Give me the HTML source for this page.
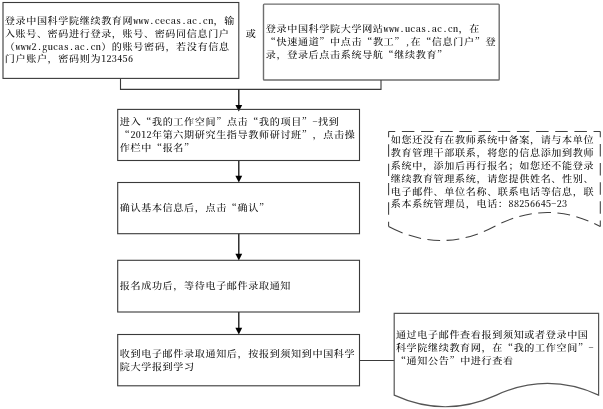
<!DOCTYPE html>
<html lang="zh-CN">
<head>
<meta charset="utf-8">
<title>报名流程</title>
<style>
html,body{margin:0;padding:0;background:#fff;}
body{width:603px;height:409px;position:relative;overflow:hidden;font-family:"Liberation Serif","Noto Serif CJK SC",serif;}
svg{position:absolute;left:0;top:0;}
.t{position:absolute;font-size:10.1px;line-height:13px;color:#111;white-space:nowrap;letter-spacing:0.610px;font-weight:500;filter:grayscale(1);}
.t p{margin:0;height:13px;transform:scaleY(0.92);transform-origin:0 50%;}
.l{font-family:"Noto Serif CJK SC","Liberation Serif",serif;font-feature-settings:"hwid";line-height:0;letter-spacing:0.305px;}
.q{font-family:"Noto Serif CJK SC","Liberation Serif",serif;line-height:0;}
</style>
</head>
<body>
<svg width="603" height="409" viewBox="0 0 603 409" fill="none" stroke="#3a3a3a" stroke-width="1.1">
<rect x="3" y="2.5" width="235.8" height="75.9"/>
<rect x="263.5" y="4.1" width="235.7" height="75.9" rx="0.8" stroke="#6e6e6e" stroke-width="1.4"/>
<path d="M120.5 78.4V89.4H381V80"/>
<path d="M238.8 89.4V105.5" stroke="#111" stroke-width="1.3"/>
<path d="M235.4 105.0H242.2L238.8 111.6Z" fill="#000" stroke="none"/>
<path d="M238.8 160.5V176.2" stroke="#111" stroke-width="1.3"/>
<path d="M235.4 175.7H242.2L238.8 182.4Z" fill="#000" stroke="none"/>
<path d="M238.8 233.7V254.2" stroke="#111" stroke-width="1.3"/>
<path d="M235.4 253.7H242.2L238.8 260.4Z" fill="#000" stroke="none"/>
<path d="M238.8 312.0V328.3" stroke="#111" stroke-width="1.3"/>
<path d="M235.4 327.8H242.2L238.8 334.6Z" fill="#000" stroke="none"/>
<rect x="117.7" y="109.4" width="241.8" height="51.1"/>
<rect x="117.7" y="182.5" width="241.8" height="51.2"/>
<rect x="117.7" y="260.3" width="241.8" height="51.7"/>
<rect x="117.7" y="334.5" width="241.8" height="51.3"/>
<path d="M359.5 360.5H394.2"/>
<g stroke="#404040" stroke-width="1.05">
<path d="M388.6 131.4H600.3" stroke-dasharray="12.5 6.67" stroke-dashoffset="5.9"/>
<path d="M600.3 131.4V226.5" stroke-dasharray="12.5 6.62" stroke-dashoffset="6.6"/>
<path d="M388.6 131.4V226.5" stroke-dasharray="12.35 7" stroke-dashoffset="6.45"/>
<path d="M388.6 226.5Q441.5 254.5 494.4 226.5T600.3 226.5" stroke-dasharray="15.4 6.4 12.8 6.46 12.8 6.46 12.8 6.46 12.8 6.46 12.8 6.46 12.8 6.46 12.8 6.46 12.8 6.46 12.8 6.46 12.8 6.46 12.8 6.46 12.8 6.46"/>
</g>
<path d="M394.2 395.1V313.3H598.6V395.1Q547.5 371.8 496.4 395.1T394.2 395.1Z" stroke="#555" stroke-width="1.2"/>
</svg>
<div class="t" style="left:4.80px;top:13.50px">
<p>登录中国科学院继续教育网<span class="l">www.cecas.ac.cn</span>，输</p>
<p>入账号、密码进行登录，账号、密码同信息门户</p>
<p>（<span class="l">www2.gucas.ac.cn</span>）的账号密码，若没有信息</p>
<p style="margin-top:-1px;margin-bottom:1px">门户账户，密码则为<span class="l">123456</span></p>
</div>
<div class="t" style="left:245.80px;top:26.50px">
<p>或</p>
</div>
<div class="t" style="left:265.80px;top:21.59px">
<p>登录中国科学院大学网站<span class="l">www.ucas.ac.cn</span>，在</p>
<p><span class="q">“</span>快速通道<span class="q">”</span>中点击<span class="q">“</span>教工<span class="q">”</span><span class="l">,</span>在<span class="q">“</span>信息门户<span class="q">”</span>登</p>
<p>录，登录后点击系统导航<span class="q">“</span>继续教育<span class="q">”</span></p>
</div>
<div class="t" style="left:119.80px;top:115.41px">
<p>进入<span class="q">“</span>我的工作空间<span class="q">”</span>点击<span class="q">“</span>我的项目<span class="q">”</span><span class="l">-</span>找到</p>
<p><span class="q">“</span><span class="l">2012</span>年第六期研究生指导教师研讨班<span class="q">”</span>，点击操</p>
<p>作栏中<span class="q">“</span>报名<span class="q">”</span></p>
</div>
<div class="t" style="left:119.80px;top:201.09px">
<p>确认基本信息后，点击<span class="q">“</span>确认<span class="q">”</span></p>
</div>
<div class="t" style="left:119.80px;top:279.10px">
<p>报名成功后，等待电子邮件录取通知</p>
</div>
<div class="t" style="left:119.80px;top:346.89px">
<p>收到电子邮件录取通知后，按报到须知到中国科学</p>
<p>院大学报到学习</p>
</div>
<div class="t" style="left:390.80px;top:132.81px">
<p>如您还没有在教师系统中备案，请与本单位</p>
<p>教育管理干部联系，将您的信息添加到教师</p>
<p>系统中，添加后再行报名；如您还不能登录</p>
<p>继续教育管理系统，请您提供姓名、性别、</p>
<p>电子邮件、单位名称、联系电话等信息，联</p>
<p style="margin-top:-1px;margin-bottom:1px">系本系统管理员，电话：<span class="l">88256645-23</span></p>
</div>
<div class="t" style="left:395.90px;top:328.10px">
<p>通过电子邮件查看报到须知或者登录中国</p>
<p>科学院继续教育网，在<span class="q">“</span>我的工作空间<span class="q">”</span><span class="l">-</span></p>
<p><span class="q">“</span>通知公告<span class="q">”</span>中进行查看</p>
</div>
</body>
</html>
